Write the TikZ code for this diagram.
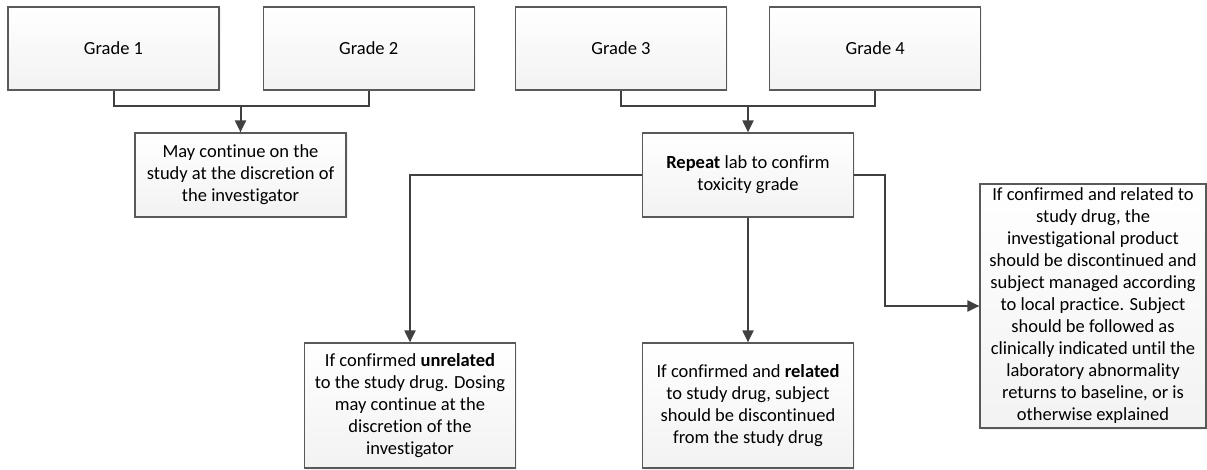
\documentclass[tikz,border=0pt]{standalone}
\usepackage{fontspec}
\setmainfont[Ligatures=NoCommon]{Carlito}
\usetikzlibrary{arrows.meta,positioning,shadows}
\definecolor{linegray}{HTML}{404040}
\definecolor{boxgray}{HTML}{595959}
\tikzset{
  gradebox/.style={draw=boxgray, line width=1.2pt, top color=white, bottom color=gray!10,
    drop shadow={shadow xshift=1.5pt, shadow yshift=-1.5pt, fill=gray!22},
    minimum width=211pt, align=center, inner sep=0pt,
    font=\fontsize{18.5}{22}\selectfont},
  link/.style={draw=linegray, line width=2pt},
  arr/.style={link, -{Triangle[length=12pt,width=11pt]}}
}
\begin{document}
\begin{tikzpicture}[x=1pt,y=-1pt]
  \useasboundingbox (0,0) rectangle (1207,470);
  % grades
  \node[gradebox, minimum height=83pt] (g1) at (113.5,48.5) {Grade 1};
  \node[gradebox, minimum height=83pt, right=43pt of g1] (g2) {Grade 2};
  \node[gradebox, minimum height=83pt] (g3) at (621,48.5) {Grade 3};
  \node[gradebox, minimum height=83pt, right=42pt of g3] (g4) {Grade 4};
  % outcomes
  \node[gradebox, minimum height=84pt] (may) at (240.5,175)
    {May continue on the\\study at the discretion of\\the investigator};
  \node[gradebox, minimum height=84pt] (rep) at (748,175)
    {\textbf{Repeat} lab to confirm\\toxicity grade};
  \node[gradebox, minimum height=125pt] (unrel) at (410,405.5)
    {If confirmed \textbf{unrelated}\\to the study drug. Dosing\\may continue at the\\discretion of the\\investigator};
  \node[gradebox, minimum height=125pt] (rel) at (748,405.5)
    {If confirmed and \textbf{related}\\to study drug, subject\\should be discontinued\\from the study drug};
  \node[gradebox, minimum width=226pt, minimum height=244pt] (prac) at (1093,306)
    {If confirmed and related to\\study drug, the\\investigational product\\should be discontinued and\\subject managed according\\to local practice. Subject\\should be followed as\\clinically indicated until the\\laboratory abnormality\\returns to baseline, or is\\otherwise explained};
  % connectors
  \coordinate (j12) at (240.5,106);
  \coordinate (j34) at (748,106);
  \coordinate (bend) at (885,175);
  \draw[link] (g1.south) |- (j12) -| (g2.south);
  \draw[arr] (j12) -- (may.north);
  \draw[link] (g3.south) |- (j34) -| (g4.south);
  \draw[arr] (j34) -- (rep.north);
  \draw[arr] (rep.west) -| (unrel.north);
  \draw[arr] (rep.south) -- (rel.north);
  \draw[arr] (rep.east) -- (bend) |- (prac.west);
\end{tikzpicture}
\end{document}
